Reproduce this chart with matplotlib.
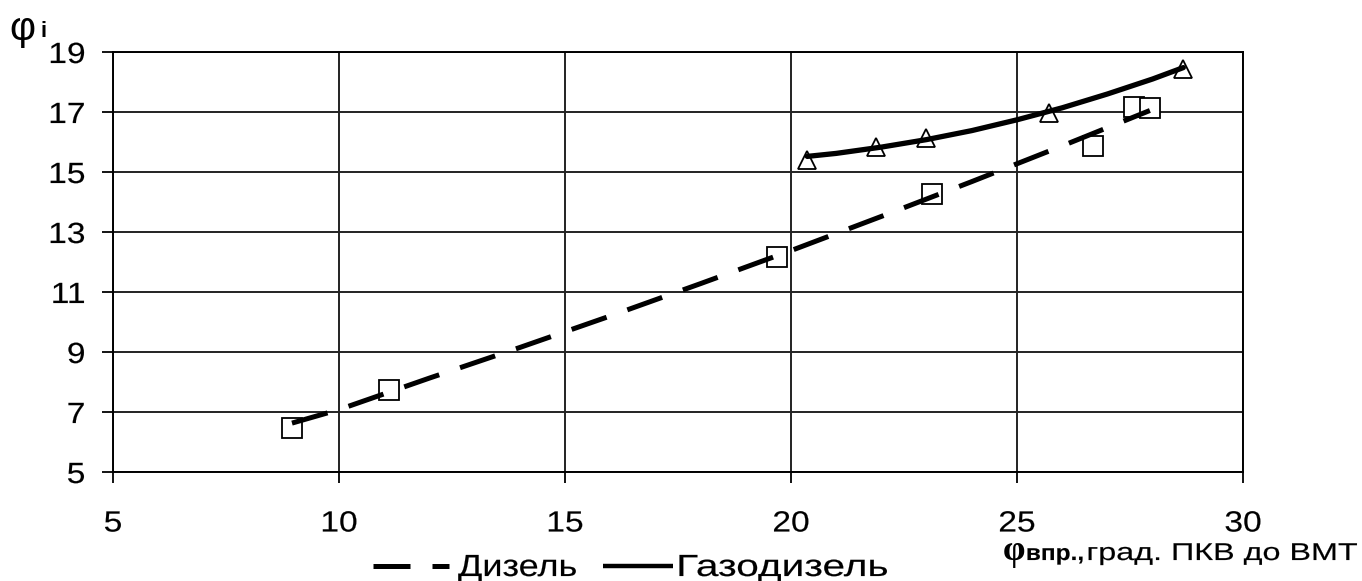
import matplotlib
matplotlib.use("Agg")
import matplotlib.pyplot as plt
import matplotlib.patheffects as pe
from matplotlib.lines import Line2D
from matplotlib.transforms import Affine2D

plt.rcParams['font.family'] = ['Liberation Sans', 'DejaVu Sans']

# --- data ---
diesel_x = [8.96, 11.1, 19.7, 23.12, 26.68, 27.59, 27.94]
diesel_y = [6.47, 7.75, 12.16, 14.26, 15.86, 17.18, 17.12]

gas_x = [20.36, 21.88, 22.98, 25.71, 28.68]
gas_y = [15.41, 15.83, 16.13, 16.96, 18.45]

diesel_trend_x = [8.96, 10, 12, 14, 16, 18, 20, 22, 24, 26, 27.94]
diesel_trend_y = [6.63, 7.08, 8.13, 9.15, 10.2, 11.28, 12.38, 13.52, 14.68, 15.87, 17.05]

gas_trend_x = [20.36, 21, 22, 23, 24, 25, 26, 27, 28, 28.68]
gas_trend_y = [15.52, 15.62, 15.83, 16.08, 16.38, 16.74, 17.14, 17.6, 18.1, 18.48]

x_ticks = [5, 10, 15, 20, 25, 30]
y_ticks = [5, 7, 9, 11, 13, 15, 17, 19]

legend_labels = ['Дизель', 'Газодизель']


class HStretch(pe.AbstractPathEffect):
    """Draw text paths stretched horizontally about an anchor (slightly emboldened)."""
    def __init__(self, sx, anchor='center', bold=0.12):
        super().__init__()
        self.sx = sx
        self.anchor = anchor
        self.bold = bold

    def draw_path(self, renderer, gc, tpath, affine, rgbFace=None):
        ext = tpath.get_extents(affine)
        if self.anchor == 'left':
            x0 = ext.x0
        elif self.anchor == 'right':
            x0 = ext.x1
        else:
            x0 = 0.5 * (ext.x0 + ext.x1)
        new = affine + Affine2D().translate(-x0, 0).scale(self.sx, 1).translate(x0, 0)
        gc0 = renderer.new_gc()
        gc0.copy_properties(gc)
        if self.bold and rgbFace is not None:
            gc0.set_linewidth(self.bold)
            gc0.set_foreground(rgbFace)
            gc0.set_joinstyle('round')
        renderer.draw_path(gc0, tpath, new, rgbFace)
        gc0.restore()


W, H = 1362, 581
fig = plt.figure(figsize=(W / 100, H / 100), dpi=100)
ax = fig.add_axes([113 / W, 1 - 472 / H, (1243 - 113) / W, (472 - 52) / H])


def fx(px):
    return px / W


def fy(py):
    return 1 - py / H


ax.set_xlim(5, 30)
ax.set_ylim(5, 19)
ax.set_xticks(x_ticks)
ax.set_yticks(y_ticks)
ax.tick_params(axis='both', labelsize=21, direction='out', length=8, width=1.3, colors='black')
ax.tick_params(axis='y', pad=12)
ax.tick_params(axis='x', pad=19)
for lbl in ax.get_xticklabels():
    lbl.set_path_effects([HStretch(1.15, 'center')])
for lbl in ax.get_yticklabels():
    lbl.set_path_effects([HStretch(1.15, 'right')])
ax.grid(True, color='#222222', linewidth=1.4)
for s in ax.spines.values():
    s.set_linewidth(1.4)
    s.set_color('black')

DASH = (0, (7.4, 4.4))

# markers
ax.plot(diesel_x, diesel_y, linestyle='none', marker='s', markersize=14.5,
        markerfacecolor='white', markeredgecolor='black', markeredgewidth=1.3, zorder=3)
ax.plot(gas_x, gas_y, linestyle='none', marker='^', markersize=13.3,
        markerfacecolor='white', markeredgecolor='black', markeredgewidth=1.3, zorder=3)

# trend lines
ax.plot(diesel_trend_x, diesel_trend_y, color='black', linewidth=3.6,
        linestyle=DASH, dash_capstyle='butt', zorder=4)
ax.plot(gas_trend_x, gas_trend_y, color='black', linewidth=3.8,
        linestyle='-', solid_capstyle='round', zorder=4)

# legend (drawn manually so that its text can follow the reference widths)
ly = fy(566)
fig.add_artist(Line2D([fx(373), fx(449)], [ly, ly], color='black', linewidth=3.6,
                      linestyle=DASH, dash_capstyle='butt', transform=fig.transFigure))
fig.add_artist(Line2D([fx(603), fx(673)], [ly, ly], color='black', linewidth=3.2,
                      linestyle='-', solid_capstyle='butt', transform=fig.transFigure))
t1 = fig.text(fx(458), fy(576), legend_labels[0], fontsize=22, ha='left', va='baseline')
t1.set_path_effects([HStretch(1.18, 'left')])
t2 = fig.text(fx(677), fy(576), legend_labels[1], fontsize=22, ha='left', va='baseline')
t2.set_path_effects([HStretch(1.33, 'left')])

# y axis label
fig.text(fx(9), fy(40), 'φ', fontsize=29, ha='left', va='baseline')
fig.text(fx(41), fy(37), 'i', fontsize=16, fontweight='bold', ha='left', va='baseline')

# x axis label
fig.text(fx(1003), fy(560), 'φ', fontsize=26, fontweight='bold',
         family=['Liberation Serif', 'DejaVu Serif'], ha='left', va='baseline')
t3 = fig.text(fx(1026), fy(560), 'впр.,', fontsize=16, fontweight='bold', ha='left', va='baseline')
t3.set_path_effects([HStretch(1.1, 'left', bold=0.1)])
t4 = fig.text(fx(1087), fy(560), 'град. ПКВ до ВМТ', fontsize=17.5, ha='left', va='baseline')
t4.set_path_effects([HStretch(1.33, 'left')])

fig.savefig('out.png', dpi=100)
